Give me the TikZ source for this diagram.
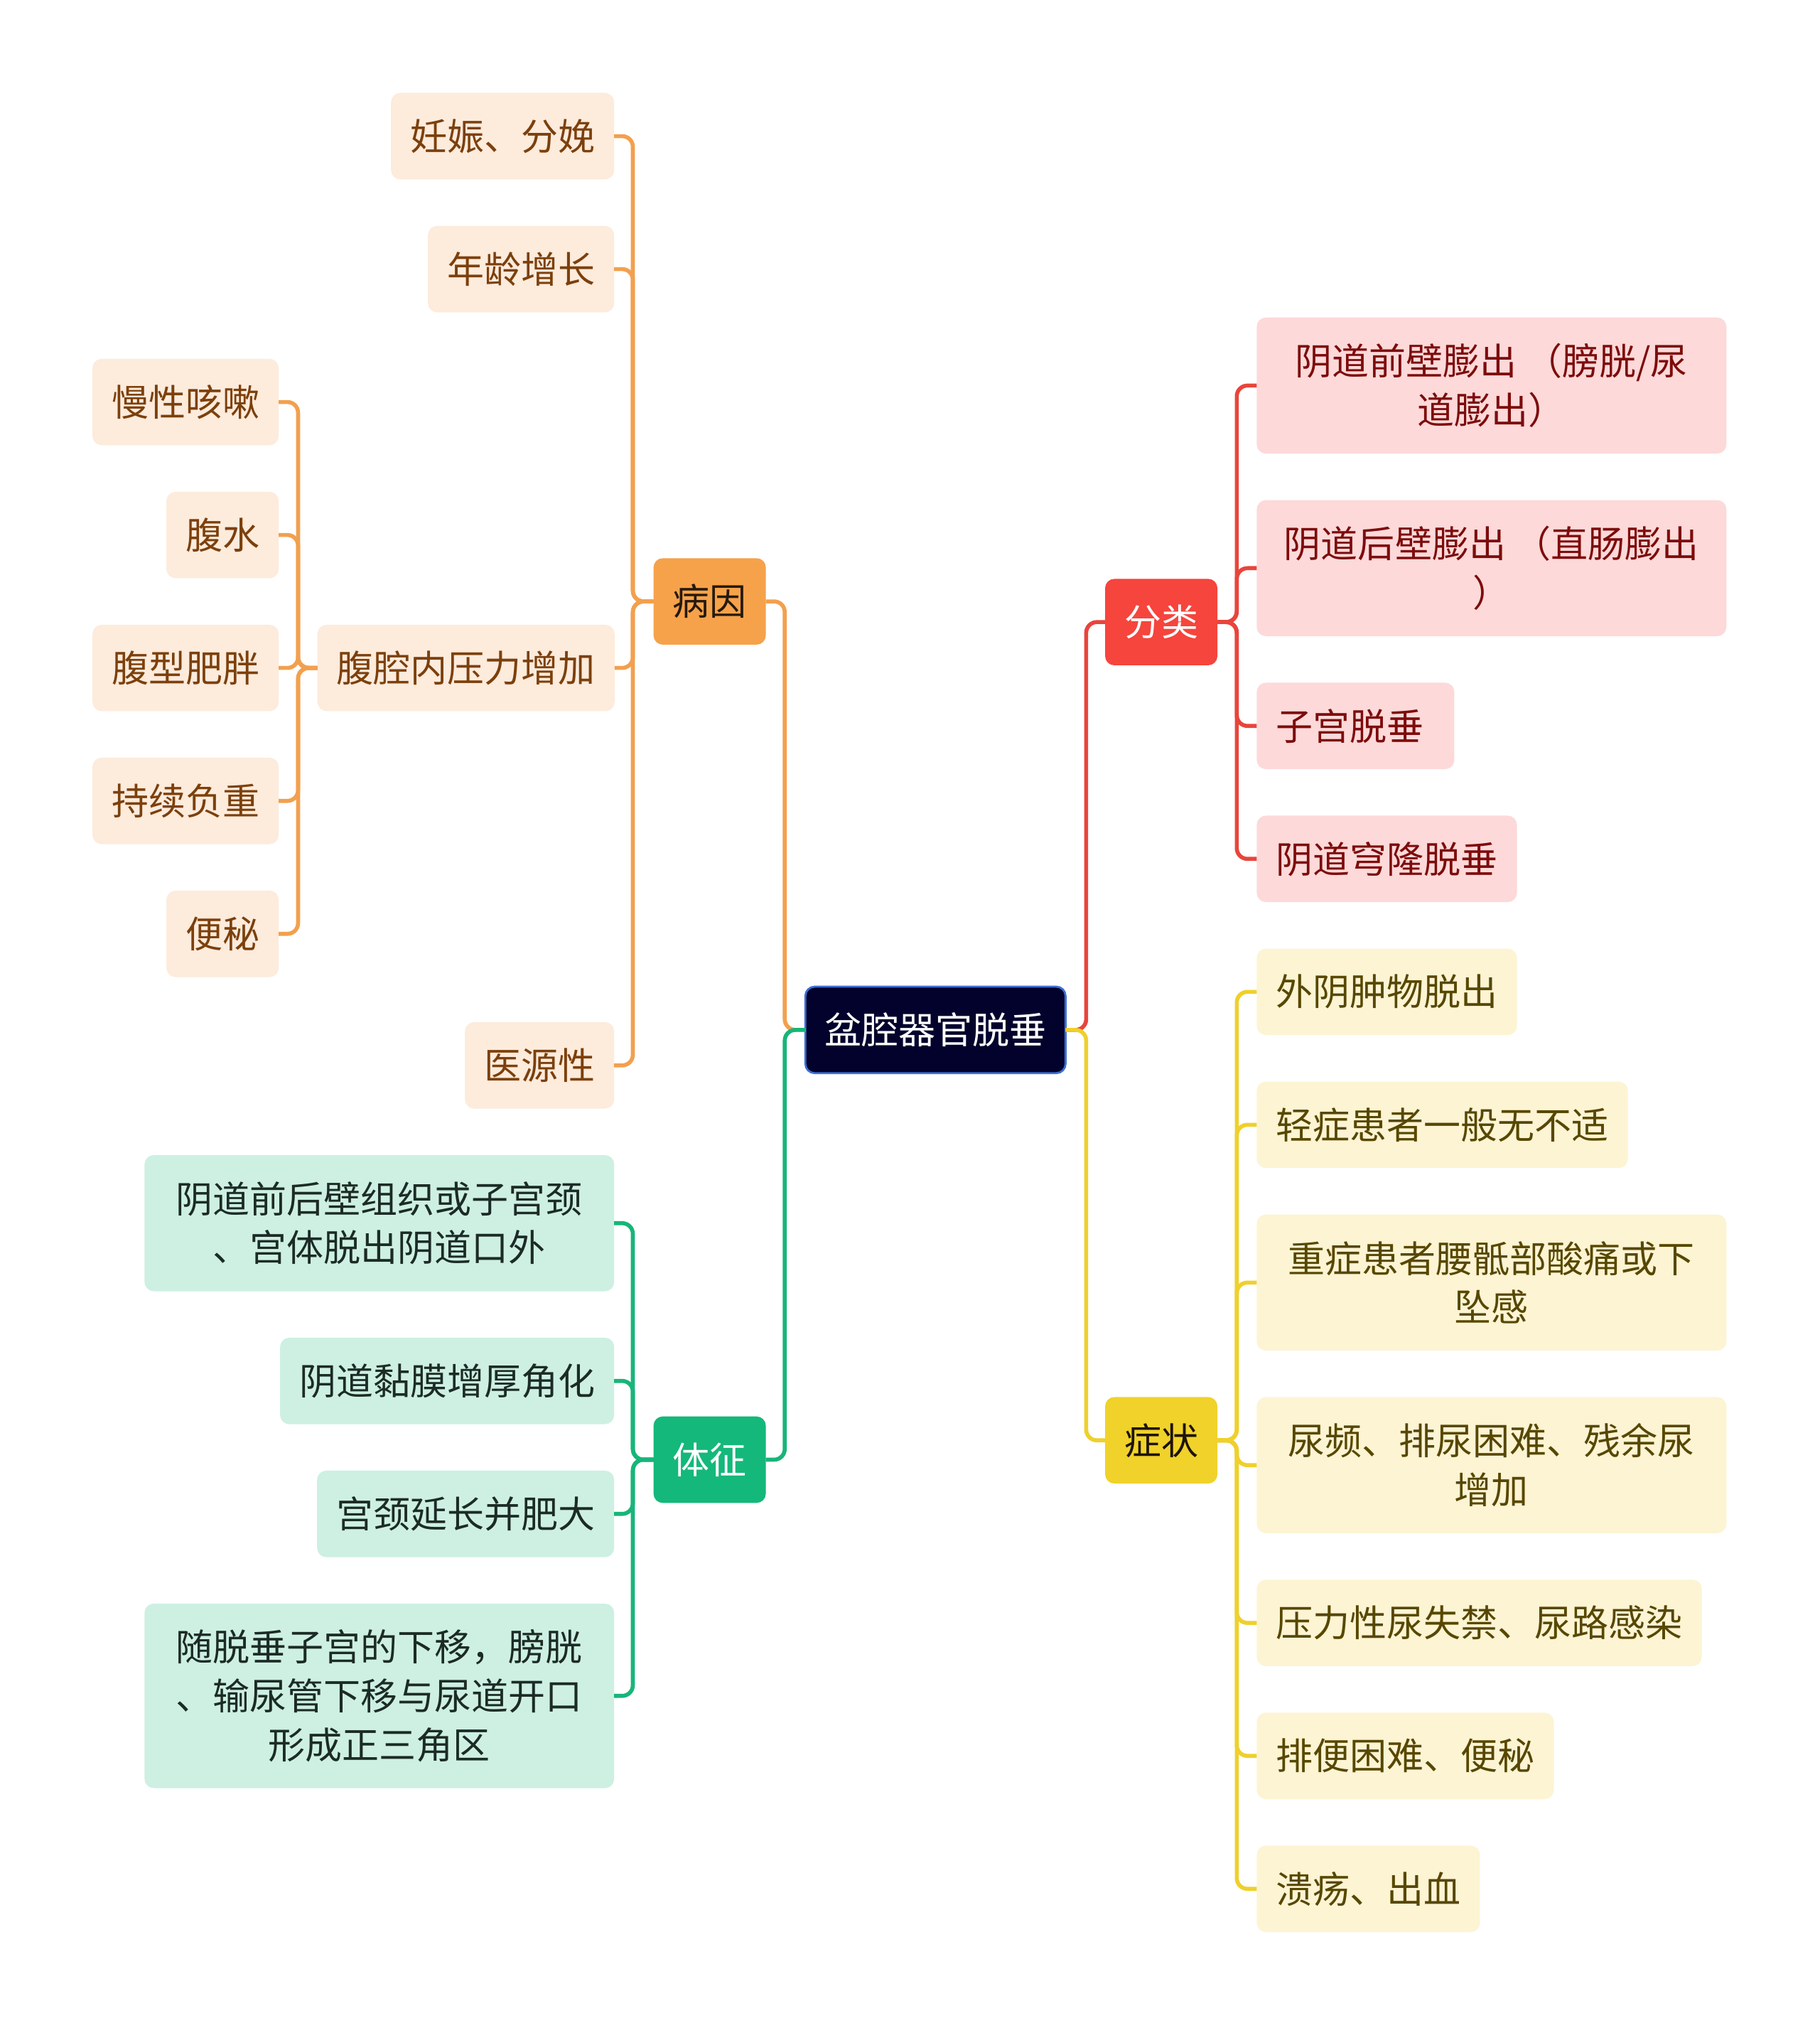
\documentclass[tikz,border=0pt]{standalone}
\usepackage{fontspec}
\setmainfont{Noto Sans CJK SC}
\usepackage{xcolor}
\usepackage{tikz}
\usetikzlibrary{positioning}

\definecolor{rootfill}{HTML}{02022C}
\definecolor{rootdraw}{HTML}{3C6FD2}
\definecolor{causefill}{HTML}{F5A24B}
\definecolor{causeleaf}{HTML}{FDEBDC}
\definecolor{causetext}{HTML}{7C400C}
\definecolor{causeline}{HTML}{F2A04E}
\definecolor{typefill}{HTML}{F5453D}
\definecolor{typeleaf}{HTML}{FDD9D9}
\definecolor{typetext}{HTML}{7D0C0C}
\definecolor{typeline}{HTML}{E8453C}
\definecolor{signfill}{HTML}{14B87A}
\definecolor{signleaf}{HTML}{CDF0E2}
\definecolor{signtext}{HTML}{1C2B25}
\definecolor{signline}{HTML}{17B57A}
\definecolor{sympfill}{HTML}{F0D22A}
\definecolor{sympleaf}{HTML}{FCF4D3}
\definecolor{symptext}{HTML}{574700}
\definecolor{sympline}{HTML}{EFD02C}

\begin{document}
\begin{tikzpicture}[
  x=0.018156cm, y=-0.018156cm,
  node distance=0.654cm and 0.545cm,
  box/.style={rounded corners=0.13cm, inner xsep=0.27cm, inner ysep=0pt, outer sep=0pt, minimum height=1.2165cm,
    align=center, font=\fontsize{14.8pt}{19.6pt}\selectfont},
  two/.style={minimum height=1.915cm, minimum width=6.609cm},
  three/.style={minimum height=2.596cm, minimum width=6.609cm},
  link/.style={line width=1.6pt, rounded corners=0.15cm}
]
  \fill[white] (0,0) rectangle (1410,1567.5);

  % centre and main branches
  \node[box, fill=rootfill, draw=rootdraw, line width=0.8pt, text=white] (root) at (725,798) {盆腔器官脱垂};
  \node[box, fill=causefill, text=black!80!brown] (cause) at (550,466) {病因};
  \node[box, fill=signfill, text=white] (signs) at (550,1131) {体征};
  \node[box, fill=typefill, text=white] (types) at (900,482) {分类};
  \node[box, fill=sympfill, text=black!85!brown] (symp) at (900,1116) {症状};

  % causes
  \node[box, fill=causeleaf, text=causetext, anchor=north east] (preg) at (476,72) {妊娠、分娩};
  \node[box, fill=causeleaf, text=causetext, below=of preg.south east, anchor=north east] (age) {年龄增长};
  \node[box, fill=causeleaf, text=causetext, anchor=north east] (cough) at (216,278) {慢性咳嗽};
  \node[box, fill=causeleaf, text=causetext, below=of cough.south east, anchor=north east] (ascites) {腹水};
  \node[box, fill=causeleaf, text=causetext, below=of ascites.south east, anchor=north east] (obese) {腹型肥胖};
  \node[box, fill=causeleaf, text=causetext, below=of obese.south east, anchor=north east] (load) {持续负重};
  \node[box, fill=causeleaf, text=causetext, below=of load.south east, anchor=north east] (constip) {便秘};
  \node[box, fill=causeleaf, text=causetext, right=of obese] (press) {腹腔内压力增加};
  \node[box, fill=causeleaf, text=causetext, anchor=north east] (iatro) at (476,792) {医源性};

  % signs
  \node[box, two, fill=signleaf, text=signtext, below=of iatro.south east, anchor=north east] (prolapse) {阴道前后壁组织或子宫颈\\、宫体脱出阴道口外};
  \node[box, fill=signleaf, text=signtext, below=of prolapse.south east, anchor=north east] (mucosa) {阴道黏膜增厚角化};
  \node[box, fill=signleaf, text=signtext, below=of mucosa.south east, anchor=north east] (cervix) {宫颈延长并肥大};
  \node[box, three, fill=signleaf, text=signtext, below=of cervix.south east, anchor=north east] (triangle) {随脱垂子宫的下移，膀胱\\、输尿管下移与尿道开口\\形成正三角区};

  % types
  \node[box, two, fill=typeleaf, text=typetext, anchor=north west] (front) at (974,246) {阴道前壁膨出 （膀胱/尿\\道膨出）};
  \node[box, two, fill=typeleaf, text=typetext, below=of front.south west, anchor=north west] (back) {阴道后壁膨出 （直肠膨出\\）};
  \node[box, fill=typeleaf, text=typetext, text width=2.24cm, align=left, below=of back.south west, anchor=north west] (uterus) {子宫脱垂};
  \node[box, fill=typeleaf, text=typetext, below=of uterus.south west, anchor=north west] (vault) {阴道穹隆脱垂};

  % symptoms
  \node[box, fill=sympleaf, text=symptext, below=of vault.south west, anchor=north west] (mass) {外阴肿物脱出};
  \node[box, fill=sympleaf, text=symptext, below=of mass.south west, anchor=north west] (mild) {轻症患者一般无不适};
  \node[box, two, fill=sympleaf, text=symptext, below=of mild.south west, anchor=north west] (severe) {重症患者腰骶部酸痛或下\\坠感};
  \node[box, two, fill=sympleaf, text=symptext, below=of severe.south west, anchor=north west] (urine) {尿频、排尿困难、残余尿\\增加};
  \node[box, fill=sympleaf, text=symptext, below=of urine.south west, anchor=north west] (stress) {压力性尿失禁、尿路感染};
  \node[box, fill=sympleaf, text=symptext, below=of stress.south west, anchor=north west] (bowel) {排便困难、便秘};
  \node[box, fill=sympleaf, text=symptext, below=of bowel.south west, anchor=north west] (ulcer) {溃疡、出血};

  % connectors
  \draw[link, causeline] (root.west) -- ++(-16,0) |- (cause.east);
  \draw[link, signline] (root.west) -- ++(-16,0) |- (signs.east);
  \draw[link, typeline] (root.east) -- ++(16,0) |- (types.west);
  \draw[link, sympline] (root.east) -- ++(16,0) |- (symp.west);
  \foreach \n in {preg,age,press,iatro}
    \draw[link, causeline] (cause.west) -- ++(-16,0) |- (\n.east);
  \foreach \n in {cough,ascites,obese,load,constip}
    \draw[link, causeline] (press.west) -- ++(-15,0) |- (\n.east);
  \foreach \n in {prolapse,mucosa,cervix,triangle}
    \draw[link, signline] (signs.west) -- ++(-16,0) |- (\n.east);
  \foreach \n in {front,back,uterus,vault}
    \draw[link, typeline] (types.east) -- ++(15,0) |- (\n.west);
  \foreach \n in {mass,mild,severe,urine,stress,bowel,ulcer}
    \draw[link, sympline] (symp.east) -- ++(15,0) |- (\n.west);
\end{tikzpicture}
\end{document}
